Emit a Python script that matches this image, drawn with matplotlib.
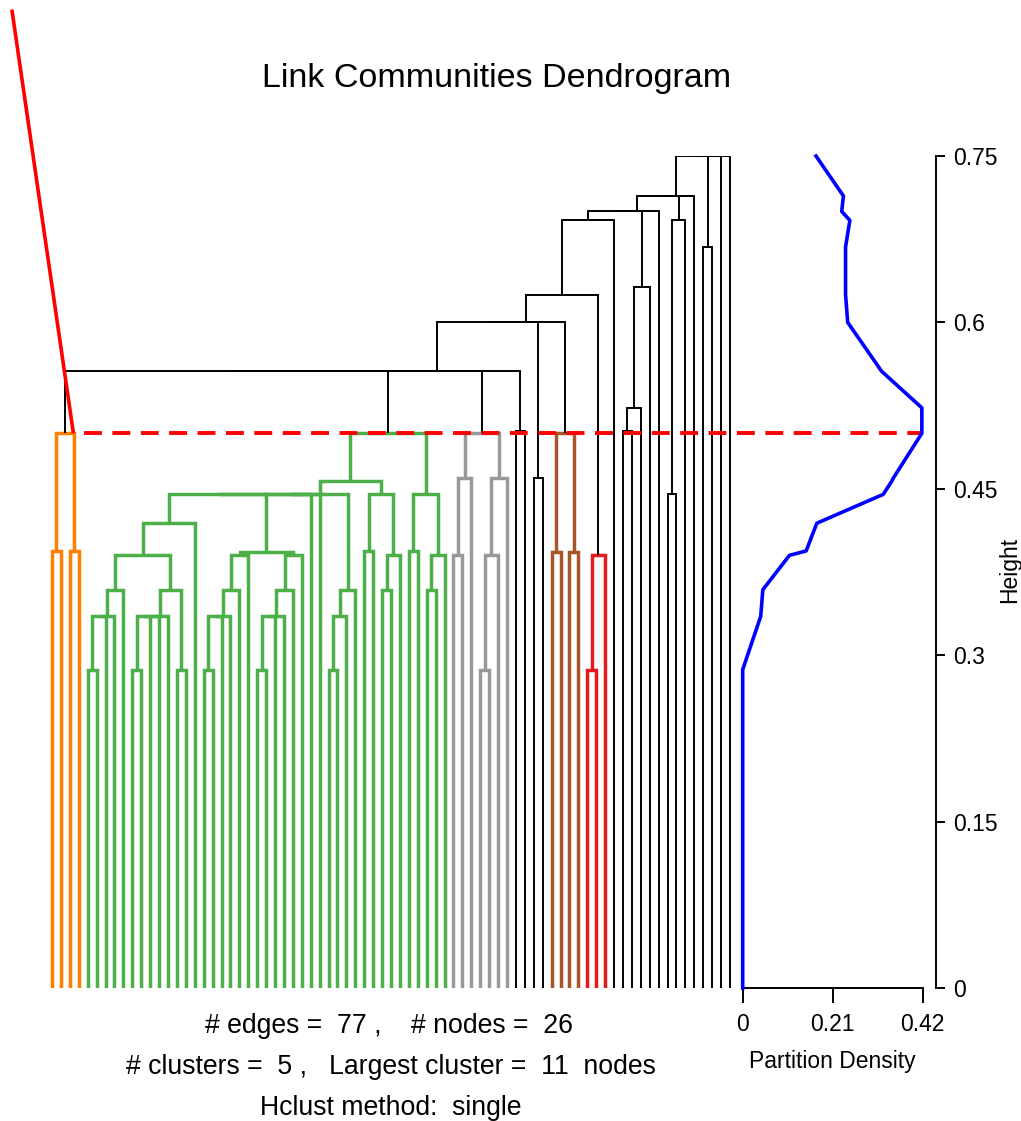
import matplotlib
matplotlib.use("Agg")
import matplotlib.pyplot as plt
from matplotlib.transforms import blended_transform_factory

plt.rcParams["font.family"] = ["Liberation Sans", "DejaVu Sans"]

# Single-linkage merge table of the link clustering (hclust convention):
# a negative entry is a leaf (edge number in plotting order), a positive
# entry refers to an earlier row of the table (1-based).
merge_left = [
    -1, -3, 1, -5, 4, 5, 6, -10, 8, 9,
    10, -15, 11, 7, 14, -18, 16, 17, 18, 19,
    -24, 21, 22, 23, 24, 20, -32, 27, 28, 15,
    30, 31, 32, -36, -38, 35, 34, 33, -41, -43,
    40, 39, 38, -46, 44, -49, 46, 47, 45, -53,
    -55, -57, -59, 52, -61, 55, 3, 57, 58, 59,
    60, 61, 62, -65, 64, 65, 63, 67, -70, 69,
    68, 71, -74, 72, 74, 75,
]
merge_right = [
    -2, -4, 2, -6, -7, -8, -9, -11, -12, -13,
    -14, -16, 12, 13, -17, -19, -20, -21, -22, -23,
    -25, -26, -27, -28, -29, 25, -33, -34, -35, 26,
    -30, -31, 29, -37, -39, -40, 36, 37, -42, -44,
    -45, 41, 42, -47, -48, -50, -51, -52, 48, -54,
    -56, -58, -60, 53, -62, -63, 43, 49, 50, 51,
    54, 56, -64, -66, -67, -68, 66, -69, -71, -72,
    70, -73, -75, 73, -76, -77,
]
merge_height = [
    0.394, 0.394, 0.500, 0.287, 0.335, 0.335, 0.359, 0.287, 0.335, 0.335,
    0.335, 0.287, 0.359, 0.390, 0.419, 0.287, 0.335, 0.335, 0.359, 0.390,
    0.287, 0.335, 0.335, 0.359, 0.390, 0.393, 0.287, 0.335, 0.359, 0.445,
    0.445, 0.445, 0.445, 0.394, 0.359, 0.390, 0.445, 0.457, 0.394, 0.359,
    0.390, 0.445, 0.500, 0.390, 0.460, 0.287, 0.390, 0.460, 0.500, 0.502,
    0.460, 0.393, 0.393, 0.500, 0.287, 0.390, 0.556, 0.556, 0.556, 0.600,
    0.600, 0.625, 0.692, 0.502, 0.523, 0.632, 0.700, 0.700, 0.445, 0.692,
    0.714, 0.714, 0.668, 0.750, 0.750, 0.750,
]

# Link communities found at the cut (first / last leaf, colour)
cluster_first = [1, 5, 46, 57, 61]
cluster_last = [4, 45, 52, 60, 63]
cluster_color = ["#FF7F00", "#4DAF4A", "#999999", "#A65628", "#E41A1C"]

cut_height = 0.5

# Partition density evaluated at each merge height
density_height = [0.0, 0.287, 0.335, 0.359, 0.390, 0.394, 0.419, 0.445,
                  0.457, 0.460, 0.500, 0.502, 0.523, 0.556, 0.600, 0.625,
                  0.632, 0.668, 0.692, 0.700, 0.714, 0.750]
density_value = [0.0, 0.0, 0.042, 0.047, 0.109, 0.148, 0.173, 0.328,
                 0.348, 0.352, 0.418, 0.418, 0.418, 0.324, 0.245, 0.240,
                 0.240, 0.240, 0.250, 0.231, 0.235, 0.171]

height_ticks = [0, 0.15, 0.3, 0.45, 0.6, 0.75]
height_labels = ["0", "0.15", "0.3", "0.45", "0.6", "0.75"]
density_ticks = [0, 0.21, 0.42]
density_labels = ["0", "0.21", "0.42"]

n_edges, n_nodes = 77, 26
n_clusters, largest_cluster = 5, 11
hclust_method = "single"

# ---------------------------------------------------------------- layout
W, H = 1021, 1121
fig = plt.figure(figsize=(W / 100, H / 100), dpi=100)
y0_px, y1_px = 988, 156          # pixel rows of height 0 and 0.75
bottom = (H - y0_px) / H
height = (y0_px - y1_px) / H

first_px, last_px = 52, 730      # first and last leaf position
n_leaves = len(merge_height) + 1
step = (last_px - first_px) / (n_leaves - 1)

ax = fig.add_axes([0, bottom, 1, height])
ax.set_xlim(1 - first_px / step, 1 + (W - first_px) / step)
ax.set_ylim(0, 0.75)
ax.axis("off")


def leaf_color(k):
    for f, l, c in zip(cluster_first, cluster_last, cluster_color):
        if f <= k <= l:
            return c
    return None


node_x, node_lo, node_hi = [], [], []


def child(c):
    if c < 0:
        return -c, 0.0, -c, -c
    i = c - 1
    return node_x[i], merge_height[i], node_lo[i], node_hi[i]


for a, b, h in zip(merge_left, merge_right, merge_height):
    xa, ha, loa, hia = child(a)
    xb, hb, lob, hib = child(b)
    lo, hi = min(loa, lob), max(hia, hib)
    same = any(f <= lo and hi <= l
               for f, l in zip(cluster_first, cluster_last))
    if same:
        col, lw = leaf_color(lo), 2.5
    else:
        col, lw = "black", 1.4
    ax.plot([xa, xa, xb, xb], [ha, h, h, hb], color=col, lw=lw,
            solid_joinstyle="miter", solid_capstyle="butt", zorder=2)
    node_x.append((xa + xb) / 2)
    node_lo.append(lo)
    node_hi.append(hi)

# stray red guide coming down onto the first community
ax.plot([-3.5, 3.4], [0.882, cut_height], color="#FF0000", lw=2.6,
        clip_on=False, zorder=3, solid_capstyle="butt")

# cut line across dendrogram and density panel
trans = blended_transform_factory(fig.transFigure, ax.transData)
ax.plot([84 / W, 922 / W], [cut_height, cut_height], color="#FF0000",
        lw=2.8, dashes=(4.6, 2.7), transform=trans, clip_on=False, zorder=4)

# ---------------------------------------------------------- density panel
axd = fig.add_axes([742.7 / W, bottom, 180 / W, height])
axd.patch.set_visible(False)
axd.set_xlim(0, 0.42)
axd.set_ylim(0, 0.75)
axd.plot(density_value, density_height, color="#0000FF", lw=2.6,
         clip_on=False, zorder=3)
axd.spines["top"].set_visible(False)
axd.spines["left"].set_visible(False)
axd.spines["right"].set_position(("outward", 9.6))
for s in ("right", "bottom"):
    axd.spines[s].set_linewidth(1.4)
axd.set_xticks(density_ticks)
axd.set_xticklabels(density_labels)
axd.yaxis.tick_right()
axd.set_yticks(height_ticks)
axd.set_yticklabels(height_labels)
axd.tick_params(axis="x", direction="out", length=10.8, width=1.4,
                pad=7, labelsize=16.5)
axd.tick_params(axis="y", direction="out", length=6.5, width=1.4,
                pad=5.5, labelsize=16.5)
axd.set_xlabel("Partition Density", fontsize=16.5, labelpad=10)

fig.text(1010 / W, 1 - 570 / H, "Height", rotation=90, ha="center",
         va="center", fontsize=16.5)

# ------------------------------------------------------------------ texts
fig.text(497 / W, 1 - 86.7 / H, "Link Communities Dendrogram",
         ha="center", va="baseline", fontsize=24.5)
fig.text(389 / W, 1 - 1033 / H,
         f"# edges =  {n_edges} ,    # nodes =  {n_nodes}",
         ha="center", va="baseline", fontsize=19.2)
fig.text(391 / W, 1 - 1074 / H,
         f"# clusters =  {n_clusters} ,   Largest cluster =  "
         f"{largest_cluster}  nodes",
         ha="center", va="baseline", fontsize=19.2)
fig.text(391 / W, 1 - 1115 / H, f"Hclust method:  {hclust_method}",
         ha="center", va="baseline", fontsize=19.2)

fig.savefig("out.png", dpi=100, facecolor="white")
